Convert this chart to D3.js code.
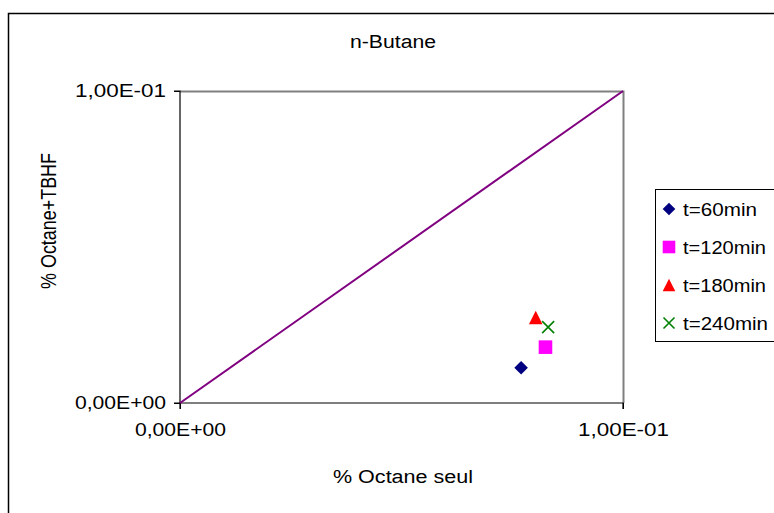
<!DOCTYPE html>
<html>
<head>
<meta charset="utf-8">
<script src="https://cdn.jsdelivr.net/npm/d3@7"></script>
<style>
  html, body { margin: 0; padding: 0; background: #fff; }
  svg { display: block; }
  text { font-family: "Liberation Sans", Arial, sans-serif; fill: #000; }
</style>
</head>
<body>
<svg id="chart" width="774" height="513"></svg>
<script>
// Series: x = % Octane seul, y = % Octane+TBHF
const seriesNames = ["t=60min", "t=120min", "t=180min", "t=240min"];
const xValues = [0.0770, 0.0825, 0.0803, 0.0831];
const yValues = [0.0113, 0.0179, 0.0274, 0.0243];
const seriesColors = ["#000080", "#ff00ff", "#ff0000", "#008000"];
const seriesSymbols = ["diamond", "square", "triangle", "cross"];

// Reference diagonal y = x
const diagX = [0, 0.1];
const diagY = [0, 0.1];

const xTicks = [0, 0.1];
const yTicks = [0, 0.1];
const tickLabels = ["0,00E+00", "1,00E-01"];

const FONT = 18;
const svg = d3.select("#chart");

// Text is drawn slightly wide; stretch each string to its target width
function stretch(sel, width) {
  sel.attr("textLength", width).attr("lengthAdjust", "spacingAndGlyphs");
}

// Outer chart frame
svg.append("rect")
  .attr("x", 8.5).attr("y", 13.5)
  .attr("width", 800).attr("height", 600)
  .attr("fill", "none").attr("stroke", "#000").attr("stroke-width", 1.5);

const plot = { left: 180, right: 623, top: 91, bottom: 403 };

const x = d3.scaleLinear().domain([0, 0.1]).range([plot.left, plot.right]);
const y = d3.scaleLinear().domain([0, 0.1]).range([plot.bottom, plot.top]);

// Plot frame: top and right edges in grey
svg.append("path")
  .attr("d", `M${plot.left},${plot.top + 0.5}H${plot.right + 0.5}V${plot.bottom}`)
  .attr("fill", "none").attr("stroke", "#808080").attr("stroke-width", 2);

// Axes
const xAxis = d3.axisBottom(x).tickValues(xTicks).tickSize(6).tickPadding(14)
  .tickFormat(d => tickLabels[xTicks.indexOf(d)]);
const yAxis = d3.axisLeft(y).tickValues(yTicks).tickSize(6).tickPadding(8)
  .tickFormat(d => tickLabels[yTicks.indexOf(d)]);

const gx = svg.append("g").attr("transform", `translate(0,${plot.bottom})`).call(xAxis);
const gy = svg.append("g").attr("transform", `translate(${plot.left},0)`).call(yAxis);
[gx, gy].forEach(g => {
  g.select(".domain").attr("stroke", "#000").attr("stroke-width", 1.2);
  g.selectAll(".tick line").attr("stroke", "#000");
  g.selectAll(".tick text")
    .attr("font-family", "Liberation Sans, Arial, sans-serif")
    .attr("font-size", FONT).attr("fill", "#000")
    .call(stretch, 91);
});
gx.select(".domain").attr("d", `M${plot.left},6V0H${plot.right}V6`);
gy.select(".domain").attr("d", `M-6,${plot.bottom}H0V${plot.top}H-6`);

// Diagonal line
const line = d3.line().x(d => x(d[0])).y(d => y(d[1]));
svg.append("path")
  .datum(diagX.map((v, i) => [v, diagY[i]]))
  .attr("d", line)
  .attr("fill", "none").attr("stroke", "#800080").attr("stroke-width", 2);

// Marker shapes, s = half-width
function marker(sel, kind, color, s) {
  let d;
  if (kind === "diamond") d = `M0,${-s}L${s},0L0,${s}L${-s},0Z`;
  else if (kind === "square") d = `M${-s},${-s}H${s}V${s}H${-s}Z`;
  else if (kind === "triangle") d = `M0,${-s}L${s},${s}H${-s}Z`;
  else d = `M${-s},${-s}L${s},${s}M${-s},${s}L${s},${-s}`;
  sel.append("path")
    .attr("d", d)
    .attr("fill", kind === "cross" ? "none" : color)
    .attr("stroke", kind === "cross" ? color : "none")
    .attr("stroke-width", 1.6);
}

// Data points
xValues.forEach((xv, i) => {
  const g = svg.append("g").attr("transform", `translate(${x(xv)},${y(yValues[i])})`);
  marker(g, seriesSymbols[i], seriesColors[i], seriesSymbols[i] === "cross" ? 6 : 6.8);
});

// Titles
svg.append("text").attr("x", 393).attr("y", 48).attr("text-anchor", "middle")
  .attr("font-size", FONT).text("n-Butane").call(stretch, 86);
svg.append("text").attr("x", 403).attr("y", 483).attr("text-anchor", "middle")
  .attr("font-size", FONT).text("% Octane seul").call(stretch, 140);
svg.append("text").attr("transform", "translate(56,221) scale(1.2,1) rotate(-90)").attr("text-anchor", "middle")
  .attr("font-size", FONT).text("% Octane+TBHF").call(stretch, 136);

// Legend
const legend = svg.append("g");
legend.append("rect")
  .attr("x", 655.5).attr("y", 189.5).attr("width", 140).attr("height", 152)
  .attr("fill", "#fff").attr("stroke", "#000").attr("stroke-width", 1);
const legendWidths = [74, 83, 83, 85];
seriesNames.forEach((name, i) => {
  const cy = 209 + i * 38;
  const g = legend.append("g").attr("transform", `translate(669,${cy})`);
  marker(g, seriesSymbols[i], seriesColors[i], seriesSymbols[i] === "cross" ? 5.5 : 6.3);
  legend.append("text").attr("x", 683).attr("y", cy + 7)
    .attr("font-size", FONT).text(name).call(stretch, legendWidths[i]);
});
</script>
</body>
</html>
